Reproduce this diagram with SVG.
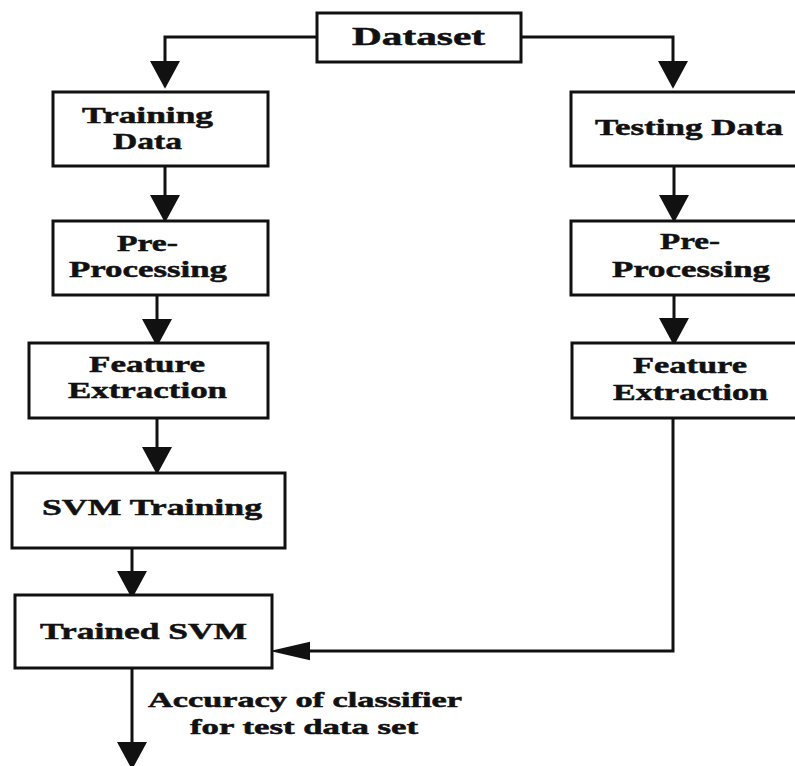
<svg xmlns="http://www.w3.org/2000/svg" width="795" height="766" viewBox="0 0 795 766">
<style>
.box{fill:#fff;stroke:#111;stroke-width:3}
.t{font-family:"Liberation Serif","Times New Roman",serif;font-weight:bold;font-size:24px;fill:#111;stroke:#111;stroke-width:0.5}
.lab{font-size:21px}
.c{fill:none;stroke:#111;stroke-width:3}
</style>
<defs>
<marker id="down" markerUnits="userSpaceOnUse" markerWidth="30" markerHeight="30" refX="0" refY="13" orient="auto" viewBox="0 0 24 26">
<path d="M0,0 L24,13 L0,26 Z" fill="#111"/>
</marker>
<marker id="left" markerUnits="userSpaceOnUse" markerWidth="40" markerHeight="20" refX="0" refY="8" orient="auto" viewBox="0 0 35 16">
<path d="M0,0 L35,8 L0,16 Z" fill="#111"/>
</marker>
</defs>
<rect width="795" height="766" fill="#fff"/>
<g id="connectors">
<path class="c" d="M317,37 H165 V61" marker-end="url(#down)"/>
<path class="c" d="M521,37 H673 V61" marker-end="url(#down)"/>
<path class="c" d="M165,166 V195" marker-end="url(#down)"/>
<path class="c" d="M157,295 V319" marker-end="url(#down)"/>
<path class="c" d="M157,418 V447" marker-end="url(#down)"/>
<path class="c" d="M132,548 V571" marker-end="url(#down)"/>
<path class="c" d="M132,668 V742" marker-end="url(#down)"/>
<path class="c" d="M674,166 V195" marker-end="url(#down)"/>
<path class="c" d="M674,295 V318" marker-end="url(#down)"/>
<path class="c" d="M673,418 V651 H310" marker-end="url(#left)"/>
</g>
<g id="dataset">
<rect class="box" x="317" y="13" width="204" height="49"/>
<text class="t" style="font-size:26px" x="352" y="45" textLength="133" lengthAdjust="spacingAndGlyphs">Dataset</text>
</g>
<g id="training-data">
<rect class="box" x="53" y="92" width="215" height="74"/>
<text class="t" x="82" y="123" textLength="131" lengthAdjust="spacingAndGlyphs">Training</text>
<text class="t" x="113" y="149" textLength="69" lengthAdjust="spacingAndGlyphs">Data</text>
</g>
<g id="preprocessing-left">
<rect class="box" x="53" y="221" width="215" height="74"/>
<text class="t" x="117" y="251" textLength="61" lengthAdjust="spacingAndGlyphs">Pre-</text>
<text class="t" x="69" y="277" textLength="158" lengthAdjust="spacingAndGlyphs">Processing</text>
</g>
<g id="feature-left">
<rect class="box" x="29" y="343" width="239" height="75"/>
<text class="t" x="89" y="372" textLength="116" lengthAdjust="spacingAndGlyphs">Feature</text>
<text class="t" x="68" y="398" textLength="159" lengthAdjust="spacingAndGlyphs">Extraction</text>
</g>
<g id="svm-training">
<rect class="box" x="12" y="473" width="273" height="75"/>
<text class="t" x="42" y="515" textLength="220" lengthAdjust="spacingAndGlyphs">SVM Training</text>
</g>
<g id="trained-svm">
<rect class="box" x="15" y="595" width="257" height="73"/>
<text class="t" x="40" y="639" textLength="207" lengthAdjust="spacingAndGlyphs">Trained SVM</text>
</g>
<g id="testing-data">
<rect class="box" x="571" y="92" width="230" height="74"/>
<text class="t" x="595" y="135" textLength="188" lengthAdjust="spacingAndGlyphs">Testing Data</text>
</g>
<g id="preprocessing-right">
<rect class="box" x="571" y="221" width="230" height="74"/>
<text class="t" x="660" y="249" textLength="60" lengthAdjust="spacingAndGlyphs">Pre-</text>
<text class="t" x="612" y="277" textLength="158" lengthAdjust="spacingAndGlyphs">Processing</text>
</g>
<g id="feature-right">
<rect class="box" x="572" y="343" width="229" height="75"/>
<text class="t" x="633" y="373" textLength="114" lengthAdjust="spacingAndGlyphs">Feature</text>
<text class="t" x="613" y="400" textLength="155" lengthAdjust="spacingAndGlyphs">Extraction</text>
</g>
<g id="output-label">
<text class="t lab" x="148" y="707" textLength="314" lengthAdjust="spacingAndGlyphs">Accuracy of classifier</text>
<text class="t lab" x="190" y="734" textLength="228" lengthAdjust="spacingAndGlyphs">for test data set</text>
</g>
</svg>
